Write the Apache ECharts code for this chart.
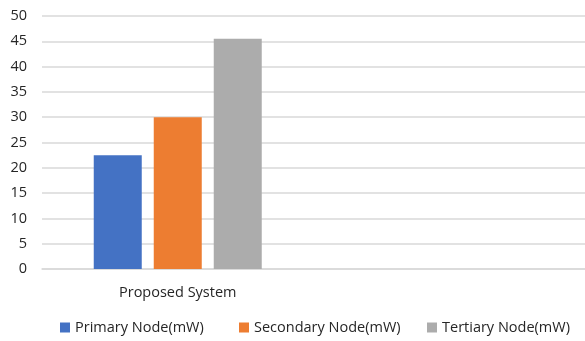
<!DOCTYPE html>
<html>
<head>
<meta charset="utf-8">
<script src="https://cdn.jsdelivr.net/npm/echarts@6/dist/echarts.min.js"></script>
<style>
  html, body { margin: 0; padding: 0; background: #fff; }
  #chart { width: 585px; height: 341px; }
</style>
</head>
<body>
<div id="chart"></div>
<script>
// Power consumption per node type (mW)
const categories = ['Proposed System', ''];
const primaryNode = [22.5, null];
const secondaryNode = [30, null];
const tertiaryNode = [45.5, null];
const seriesNames = ['Primary Node(mW)', 'Secondary Node(mW)', 'Tertiary Node(mW)'];
const yTicks = { min: 0, max: 50, interval: 5 };

const colors = ['#4472c4', '#ed7d31', '#acacac'];
const font = '"Open Sans", "Liberation Sans", sans-serif';
const textColor = '#262626';

// One legend entry per series, each placed on its own
const legendLefts = [55, 234, 422];
const legends = seriesNames.map((name, i) => ({
  left: legendLefts[i],
  bottom: 1,
  itemWidth: 10,
  itemHeight: 10,
  icon: 'rect',
  textStyle: { fontSize: 14.5, color: textColor, fontFamily: font },
  data: [name]
}));

const chart = echarts.init(document.getElementById('chart'));
chart.setOption({
  animation: false,
  color: colors,
  textStyle: { fontFamily: font },
  grid: { left: 42, right: 0, top: 16, bottom: 72, containLabel: false },
  legend: legends,
  xAxis: {
    type: 'category',
    data: categories,
    axisLine: { lineStyle: { color: '#d9d9d9', width: 1.5 } },
    axisTick: { show: false },
    axisLabel: { color: textColor, fontSize: 14.5, margin: 16, fontFamily: font }
  },
  yAxis: {
    type: 'value',
    min: yTicks.min,
    max: yTicks.max,
    interval: yTicks.interval,
    axisLine: { show: false },
    axisTick: { show: false },
    splitLine: { lineStyle: { color: '#d9d9d9', width: 1.5 } },
    axisLabel: { color: textColor, fontSize: 14.5, margin: 15, fontFamily: font }
  },
  series: [
    { name: seriesNames[0], type: 'bar', data: primaryNode, barWidth: 48, barGap: '25%' },
    { name: seriesNames[1], type: 'bar', data: secondaryNode, barWidth: 48, barGap: '25%' },
    { name: seriesNames[2], type: 'bar', data: tertiaryNode, barWidth: 48, barGap: '25%' }
  ]
});
</script>
</body>
</html>
